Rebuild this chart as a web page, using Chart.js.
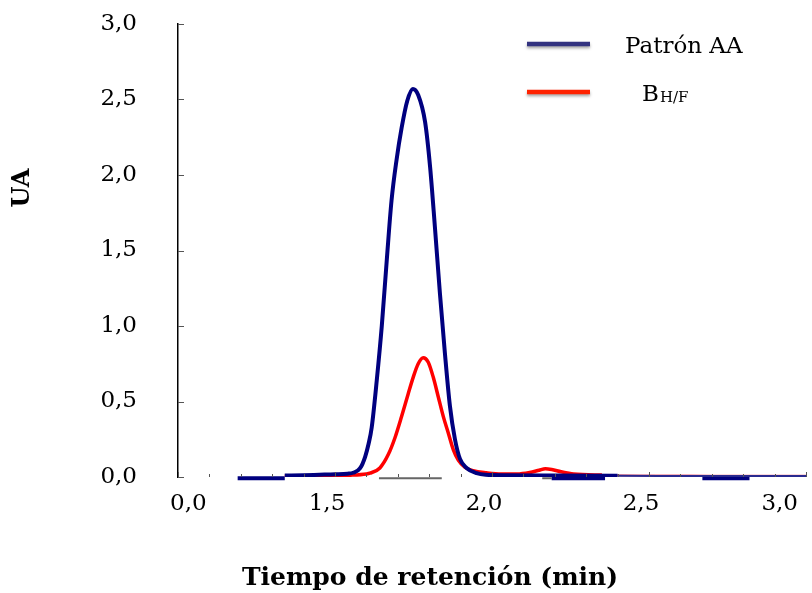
<!DOCTYPE html>
<html lang="es">
<head>
<meta charset="utf-8">
<title>Tiempo de retención</title>
<script src="https://cdn.jsdelivr.net/npm/chart.js@4.4.1/dist/chart.umd.min.js"></script>
<style>
	html, body { margin: 0; padding: 0; background: #fff; }
	#contenedor { width: 812px; height: 593px; position: relative; }
</style>
</head>
<body>
<div id="contenedor"><canvas id="grafico"></canvas></div>
<script>
/* Cromatograma del patrón de AA */
const tiempoPatron = [1.34, 1.40, 1.45, 1.50, 1.54, 1.558, 1.580, 1.596, 1.607, 1.617, 1.633, 1.649, 1.665, 1.680, 1.696, 1.712, 1.730, 1.748, 1.765, 1.787, 1.803, 1.818, 1.834, 1.850, 1.866, 1.882, 1.898, 1.919, 1.951, 1.980, 2.05, 2.20, 2.40, 2.60, 2.80, 3.00];
const uaPatron = [0.010, 0.012, 0.015, 0.018, 0.022, 0.028, 0.058, 0.134, 0.22, 0.33, 0.64, 1.00, 1.44, 1.83, 2.10, 2.31, 2.49, 2.57, 2.53, 2.35, 2.05, 1.66, 1.22, 0.82, 0.47, 0.25, 0.12, 0.06, 0.025, 0.015, 0.012, 0.010, 0.008, 0.007, 0.006, 0.006];

/* Cromatograma de la muestra B H/F */
const tiempoMuestra = [1.34, 1.45, 1.55, 1.60, 1.611, 1.643, 1.670, 1.691, 1.712, 1.733, 1.749, 1.765, 1.781, 1.797, 1.813, 1.829, 1.845, 1.861, 1.877, 1.893, 1.914, 1.940, 1.983, 2.03, 2.08, 2.12, 2.15, 2.17, 2.19, 2.22, 2.26, 2.35, 2.50, 2.70, 3.00];
const uaMuestra = [0.005, 0.008, 0.012, 0.020, 0.025, 0.06, 0.15, 0.26, 0.40, 0.55, 0.66, 0.75, 0.79, 0.76, 0.66, 0.53, 0.40, 0.29, 0.18, 0.11, 0.064, 0.042, 0.028, 0.020, 0.020, 0.030, 0.045, 0.055, 0.050, 0.035, 0.020, 0.013, 0.010, 0.009, 0.008];

/* nombre y subíndice de cada serie */
const nombres = [["Patrón AA", ""], ["B", "H/F"]];
const colores = ["#00007f", "#ff0000"];
const coloresCola = ["#2a2a8f", "#f06070"];
const coloresLeyenda = ["#333380", "#ff2200"];

const etiquetasX = ["0,0", "1,5", "2,0", "2,5", "3,0"];
const etiquetasY = ["0,0", "0,5", "1,0", "1,5", "2,0", "2,5", "3,0"];

/* trazos sueltos pegados al eje x */
const tramosAzules = [[1.19, 1.34], [2.19, 2.36], [2.67, 2.82]];
const tramosGrises = [[1.64, 1.84], [2.16, 2.19]];
const nivelTramos = -0.008;

const inicioCola = 2.3;
const serif = "'DejaVu Serif', 'Liberation Serif', serif";

function puntos(tiempos, valores) {
	return tiempos.map((t, i) => ({ x: t, y: valores[i] }));
}

function tramos(lista) {
	const salida = [];
	lista.forEach(([a, b]) => {
		salida.push({ x: a, y: nivelTramos }, { x: b, y: nivelTramos }, { x: b, y: null });
	});
	return salida;
}

// la línea se hace más fina en la cola final
function cola(i) {
	return {
		borderWidth: (c) => (c.p0.parsed.x >= inicioCola ? 2 : undefined),
		borderColor: (c) => (c.p0.parsed.x >= inicioCola ? coloresCola[i] : undefined),
	};
}

/* marcas de los ejes, leyenda y títulos */
const extras = {
	id: "extras",
	afterDatasetsDraw(chart) {
		const ctx = chart.ctx;
		const x = chart.scales.x;
		const y = chart.scales.y;
		ctx.save();
		ctx.strokeStyle = "#555";
		ctx.lineWidth = 1;
		for (let v = 0; v <= 3.001; v += 0.5) {
			const py = Math.round(y.getPixelForValue(v)) + 0.5;
			ctx.beginPath();
			ctx.moveTo(x.left, py);
			ctx.lineTo(x.left + 6, py);
			ctx.stroke();
		}
		for (let k = 10; k <= 30; k++) {
			const px = Math.round(x.getPixelForValue(k / 10)) + 0.5;
			const alto = k % 5 === 0 ? 5 : 3;
			ctx.beginPath();
			ctx.moveTo(px, y.bottom);
			ctx.lineTo(px, y.bottom - alto);
			ctx.stroke();
		}
		ctx.restore();
	},
	afterDraw(chart) {
		const ctx = chart.ctx;
		ctx.save();

		// leyenda
		const xTexto = [625, 642];
		nombres.forEach(([principal, sub], i) => {
			const yLinea = 44 + i * 48;
			ctx.save();
			ctx.shadowColor = "rgba(0,0,0,0.35)";
			ctx.shadowBlur = 3;
			ctx.shadowOffsetY = 2;
			ctx.strokeStyle = coloresLeyenda[i];
			ctx.lineWidth = 4.5;
			ctx.beginPath();
			ctx.moveTo(527, yLinea);
			ctx.lineTo(590, yLinea);
			ctx.stroke();
			ctx.restore();

			ctx.fillStyle = "#000";
			ctx.textBaseline = "alphabetic";
			ctx.textAlign = "left";
			ctx.font = "23px " + serif;
			ctx.fillText(principal, xTexto[i], yLinea + 9);
			if (sub) {
				const w = ctx.measureText(principal).width;
				ctx.font = "15px " + serif;
				ctx.fillText(sub, xTexto[i] + w + 1, yLinea + 10);
			}
		});

		// títulos de los ejes
		ctx.fillStyle = "#000";
		ctx.font = "bold 25px " + serif;
		ctx.textAlign = "center";
		ctx.textBaseline = "alphabetic";
		ctx.fillText("Tiempo de retención (min)", 430, 585);

		ctx.font = "bold 24px " + serif;
		ctx.translate(22, 188);
		ctx.rotate(-Math.PI / 2);
		ctx.textBaseline = "middle";
		ctx.fillText("UA", 0, 1);
		ctx.restore();
	}
};

const ctx = document.getElementById("grafico").getContext("2d");

new Chart(ctx, {
	type: "line",
	data: {
		datasets: [
			{
				label: nombres[0].join(""),
				data: puntos(tiempoPatron, uaPatron),
				borderColor: colores[0],
				borderWidth: 4,
				pointRadius: 0,
				cubicInterpolationMode: "monotone",
				segment: cola(0),
			},
			{
				label: nombres[1].join(""),
				data: puntos(tiempoMuestra, uaMuestra),
				borderColor: colores[1],
				borderWidth: 3.5,
				pointRadius: 0,
				cubicInterpolationMode: "monotone",
				segment: cola(1),
			},
			{
				label: "tramos azules",
				data: tramos(tramosAzules),
				borderColor: "#00007f",
				borderWidth: 4,
				pointRadius: 0,
				spanGaps: false,
				clip: false,
			},
			{
				label: "tramos grises",
				data: tramos(tramosGrises),
				borderColor: "#666",
				borderWidth: 2,
				pointRadius: 0,
				spanGaps: false,
				clip: false,
			},
		],
	},
	options: {
		responsive: true,
		maintainAspectRatio: false,
		animation: false,
		layout: { padding: { top: 24, right: 6, bottom: 0, left: 0 } },
		plugins: {
			legend: { display: false },
			tooltip: { enabled: false },
		},
		scales: {
			x: {
				type: "linear",
				min: 1,
				max: 3,
				grid: { display: false },
				border: { display: false },
				ticks: {
					stepSize: 0.5,
					align: "inner",
					labelOffset: -8,
					padding: 5,
					color: "#000",
					font: { family: serif, size: 23 },
					callback: (v, i) => etiquetasX[i],
				},
				afterFit(scale) {
					scale.height = 116;
					scale.paddingLeft = 0;
					scale.paddingRight = 0;
				},
			},
			y: {
				min: 0,
				max: 3,
				grid: { display: true, drawOnChartArea: false, drawTicks: false },
				border: { display: true, color: "#000", width: 1.5 },
				ticks: {
					stepSize: 0.5,
					padding: 41,
					color: "#000",
					font: { family: serif, size: 23 },
					callback: (v, i) => etiquetasY[i],
				},
				afterFit(scale) {
					scale.width = 178;
					scale.paddingTop = 0;
					scale.paddingBottom = 0;
				},
			},
		},
	},
	plugins: [extras],
});
</script>
</body>
</html>
